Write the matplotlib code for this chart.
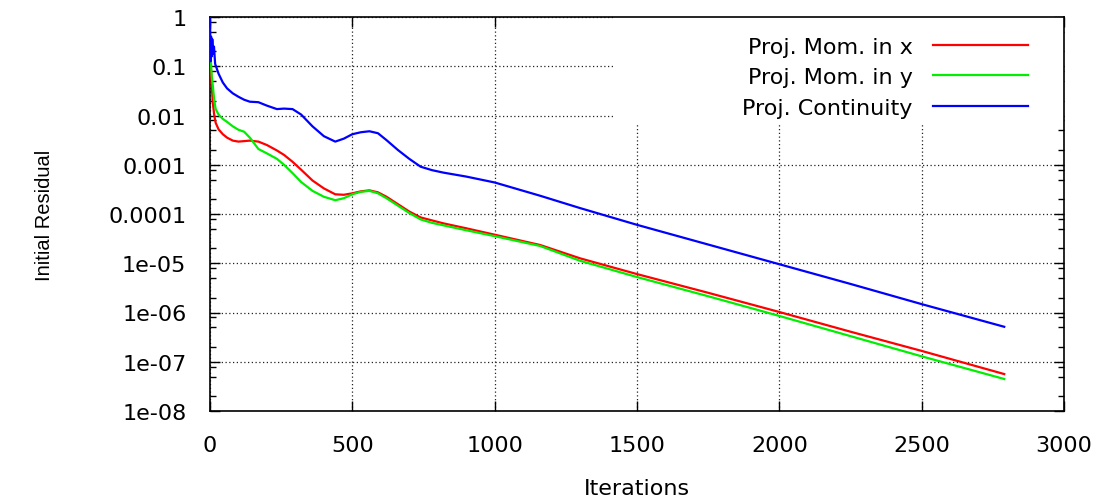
import matplotlib
matplotlib.use("Agg")
import matplotlib.pyplot as plt
from matplotlib.patches import Rectangle
from matplotlib.ticker import FixedLocator, LogLocator, NullFormatter, NullLocator

# ---------------- data ----------------
iters_blue = [0, 2, 4, 6, 8, 11, 14, 18, 24, 30, 45, 60, 80, 100, 120, 140, 170, 200,
              235, 260, 290, 320, 360, 400, 440, 470, 500, 530, 560, 590, 620, 660,
              700, 740, 780, 820, 900, 1000, 1160, 1300, 1500, 1750, 2000, 2250,
              2500, 2790]
log_continuity = [0.0, -0.9, -0.4, -0.8, -0.45, -0.75, -0.6, -0.95, -1.05, -1.15, -1.33,
                  -1.45, -1.55, -1.62, -1.68, -1.72, -1.73, -1.8, -1.87, -1.86, -1.87,
                  -1.98, -2.22, -2.42, -2.53, -2.47, -2.38, -2.34, -2.32, -2.36, -2.5,
                  -2.7, -2.88, -3.04, -3.11, -3.16, -3.24, -3.36, -3.63, -3.88, -4.22,
                  -4.62, -5.02, -5.42, -5.83, -6.29]

iters_mom = [0, 3, 6, 10, 15, 20, 30, 45, 60, 80, 100, 120, 140, 170, 200, 235, 260,
             290, 320, 360, 400, 440, 470, 500, 530, 560, 590, 620, 660, 700, 740,
             780, 820, 900, 1000, 1160, 1300, 1500, 1750, 2000, 2250, 2500, 2790]
log_mom_x = [-0.7, -1.0, -1.4, -1.75, -2.0, -2.15, -2.28, -2.38, -2.45, -2.51, -2.53,
             -2.52, -2.51, -2.53, -2.6, -2.71, -2.8, -2.94, -3.1, -3.32, -3.48, -3.6,
             -3.61, -3.58, -3.54, -3.52, -3.56, -3.65, -3.8, -3.95, -4.07, -4.13,
             -4.19, -4.29, -4.42, -4.63, -4.9, -5.22, -5.6, -5.99, -6.39, -6.78, -7.25]
log_mom_y = [-0.6, -0.9, -1.2, -1.4, -1.7, -1.87, -1.98, -2.07, -2.13, -2.22, -2.29,
             -2.33, -2.45, -2.68, -2.77, -2.88, -3.0, -3.17, -3.35, -3.53, -3.65, -3.72,
             -3.68, -3.6, -3.55, -3.53, -3.58, -3.68, -3.83, -3.98, -4.11, -4.18,
             -4.23, -4.33, -4.45, -4.65, -4.95, -5.28, -5.67, -6.07, -6.48, -6.89, -7.35]

res_continuity = [10 ** v for v in log_continuity]
res_mom_x = [10 ** v for v in log_mom_x]
res_mom_y = [10 ** v for v in log_mom_y]

series_labels = ["Proj. Mom. in x", "Proj. Mom. in y", "Proj. Continuity"]
x_ticks = [0, 500, 1000, 1500, 2000, 2500, 3000]
x_tick_labels = ["0", "500", "1000", "1500", "2000", "2500", "3000"]
y_ticks = [1, 0.1, 0.01, 0.001, 0.0001, 1e-05, 1e-06, 1e-07, 1e-08]
y_tick_labels = ["1", "0.1", "0.01", "0.001", "0.0001", "1e-05", "1e-06", "1e-07", "1e-08"]

# ---------------- figure ----------------
plt.rcParams["font.family"] = ["DejaVu Sans"]
W, H = 1109, 502
fig = plt.figure(figsize=(W / 100, H / 100), dpi=100)
L, R, T, B = 210, 1064, 18, 412
ax = fig.add_axes([L / W, 1 - B / H, (R - L) / W, (B - T) / H])

ax.set_yscale("log")
ax.set_xlim(0, 3000)
ax.set_ylim(1e-8, 1)
ax.set_axisbelow(True)

lw = 1.6
l1, = ax.plot(iters_mom, res_mom_x, color="#ff0000", lw=lw, label=series_labels[0], zorder=3)
l2, = ax.plot(iters_mom, res_mom_y, color="#00ee00", lw=lw, label=series_labels[1], zorder=3)
l3, = ax.plot(iters_blue, res_continuity, color="#0000ff", lw=lw, label=series_labels[2], zorder=3)

# ticks
ax.xaxis.set_major_locator(FixedLocator(x_ticks))
ax.set_xticklabels(x_tick_labels)
ax.xaxis.set_minor_locator(NullLocator())
ax.yaxis.set_major_locator(FixedLocator(y_ticks))
ax.set_yticklabels(y_tick_labels)
ax.yaxis.set_minor_locator(LogLocator(base=10, subs=(2, 5, 8), numticks=20))
ax.yaxis.set_minor_formatter(NullFormatter())
ax.tick_params(which="both", direction="in", top=True, right=True, width=1.0, color="black")
ax.tick_params(which="major", length=7)
ax.tick_params(which="minor", length=4.5)
ax.tick_params(axis="y", which="major", labelsize=16, pad=17)
ax.tick_params(axis="x", which="major", labelsize=16, pad=17)

for s in ax.spines.values():
    s.set_linewidth(1.2)
    s.set_color("black")

ax.grid(True, which="major", linestyle=(0, (1, 2)), color="#222222", linewidth=0.9)

# opaque key area
ax.add_patch(Rectangle((0.474, 0.728), 0.526, 0.272, transform=ax.transAxes,
                       facecolor="white", edgecolor="none", zorder=1))

leg = ax.legend(handles=[l1, l2, l3], loc="upper right", bbox_to_anchor=(0.958, 0.950),
                frameon=False, markerfirst=False, fontsize=16, handlelength=4.3,
                handletextpad=0.9, labelspacing=0.47, borderpad=0, borderaxespad=0)
leg.set_zorder(5)
for t in leg.get_texts():
    t.set_ha("right")

fig.text(637 / W, 1 - 489 / H, "Iterations", fontsize=16, ha="center", va="center")
fig.text(45 / W, 1 - 215 / H, "Initial Residual", rotation=90, fontsize=14.5,
         family=["Liberation Sans"], ha="center", va="center")

fig.savefig("out.png", dpi=100, facecolor="white")
